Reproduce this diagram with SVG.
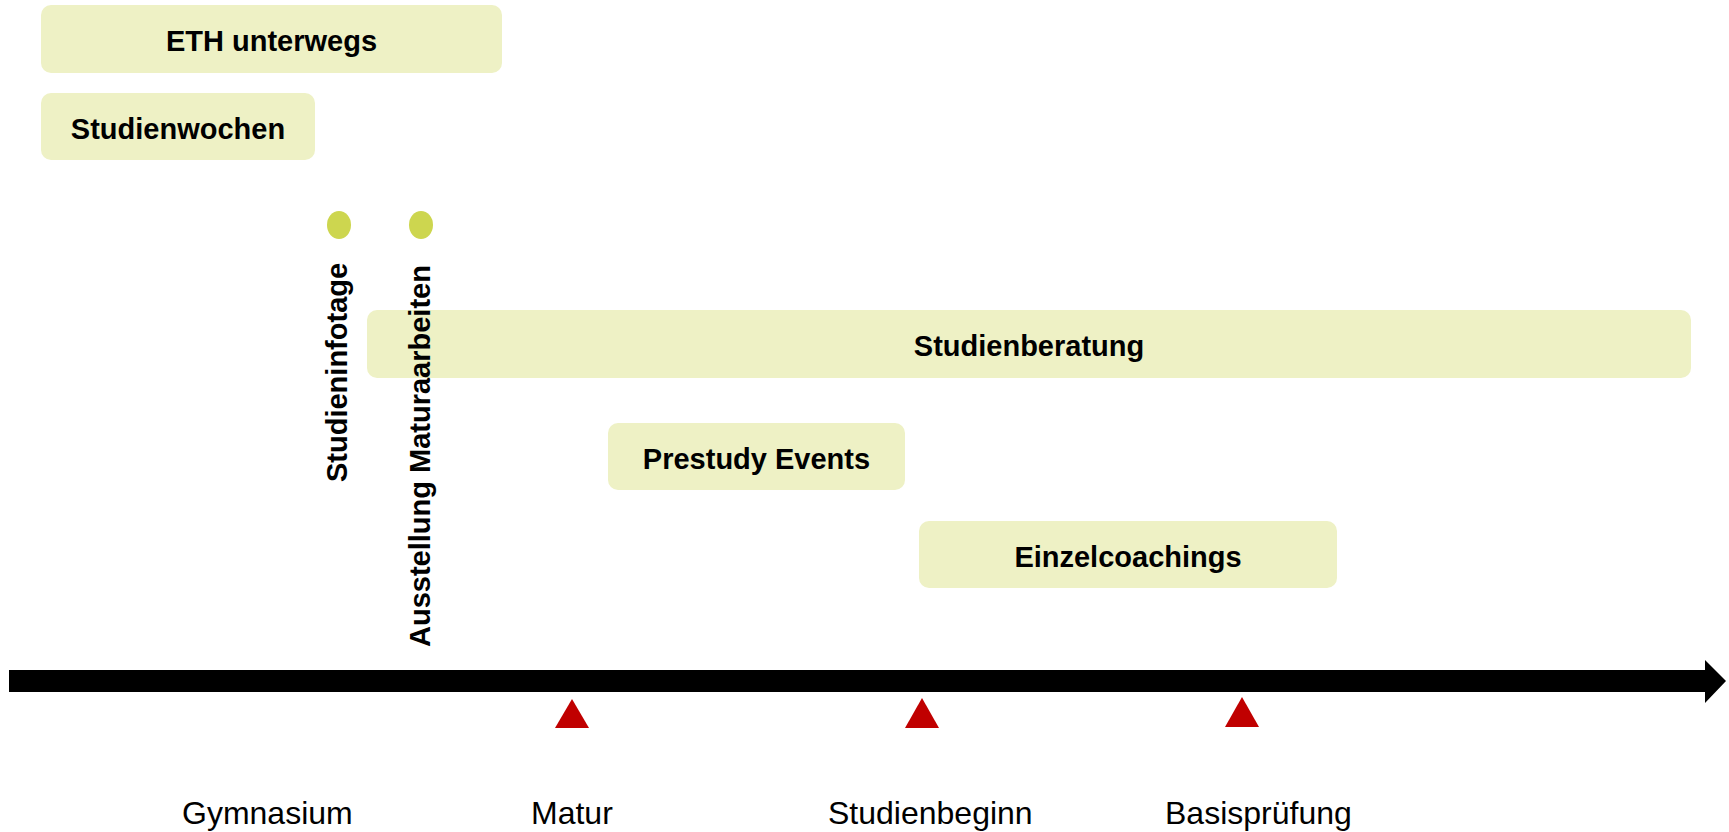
<svg xmlns="http://www.w3.org/2000/svg" width="1729" height="832" viewBox="0 0 1729 832">
<style>
.box{fill:#EEF1C5;}
.lbl{font-family:"Liberation Sans",Arial,sans-serif;font-weight:bold;font-size:29px;fill:#000;text-anchor:middle;}
.vlbl{font-family:"Liberation Sans",Arial,sans-serif;font-weight:bold;font-size:29px;fill:#000;text-anchor:start;}
.axl{font-family:"Liberation Sans",Arial,sans-serif;font-size:32px;fill:#000;}
.dot{fill:#CDD64F;}
.tri{fill:#C00000;}
</style>
<rect width="1729" height="832" fill="#FFFFFF"/>
<g id="eth-unterwegs">
<rect class="box" x="41" y="5" width="461" height="68" rx="10"/>
<text class="lbl" x="271.5" y="51">ETH unterwegs</text>
</g>
<g id="studienwochen">
<rect class="box" x="41" y="93" width="274" height="67" rx="10"/>
<text class="lbl" x="178" y="138.5">Studienwochen</text>
</g>
<g id="studieninfotage">
<ellipse class="dot" cx="339" cy="225" rx="12" ry="14"/>
<text class="vlbl" transform="translate(347,482) rotate(-90)">Studieninfotage</text>
</g>
<g id="studienberatung">
<rect class="box" x="367" y="310" width="1324" height="68" rx="10"/>
<text class="lbl" x="1029" y="356">Studienberatung</text>
</g>
<g id="ausstellung-maturaarbeiten">
<ellipse class="dot" cx="421" cy="225" rx="12" ry="14"/>
<text class="vlbl" transform="translate(430,647) rotate(-90)">Ausstellung Maturaarbeiten</text>
</g>
<g id="prestudy-events">
<rect class="box" x="608" y="423" width="297" height="67" rx="10"/>
<text class="lbl" x="756.5" y="468.5">Prestudy Events</text>
</g>
<g id="einzelcoachings">
<rect class="box" x="919" y="521" width="418" height="67" rx="10"/>
<text class="lbl" x="1128" y="566.5">Einzelcoachings</text>
</g>
<g id="connectors">
<polygon fill="#000000" points="9,670 1705,670 1705,660 1726,681 1705,703 1705,692 9,692"/>
</g>
<g id="milestones">
<polygon class="tri" points="555,728 572,699 589,728"/>
<polygon class="tri" points="905,728 922,698 939,728"/>
<polygon class="tri" points="1225,727 1242,697 1259,727"/>
<text class="axl" x="182" y="824">Gymnasium</text>
<text class="axl" x="531" y="824">Matur</text>
<text class="axl" x="828" y="824">Studienbeginn</text>
<text class="axl" x="1165" y="824">Basisprüfung</text>
</g>
</svg>
